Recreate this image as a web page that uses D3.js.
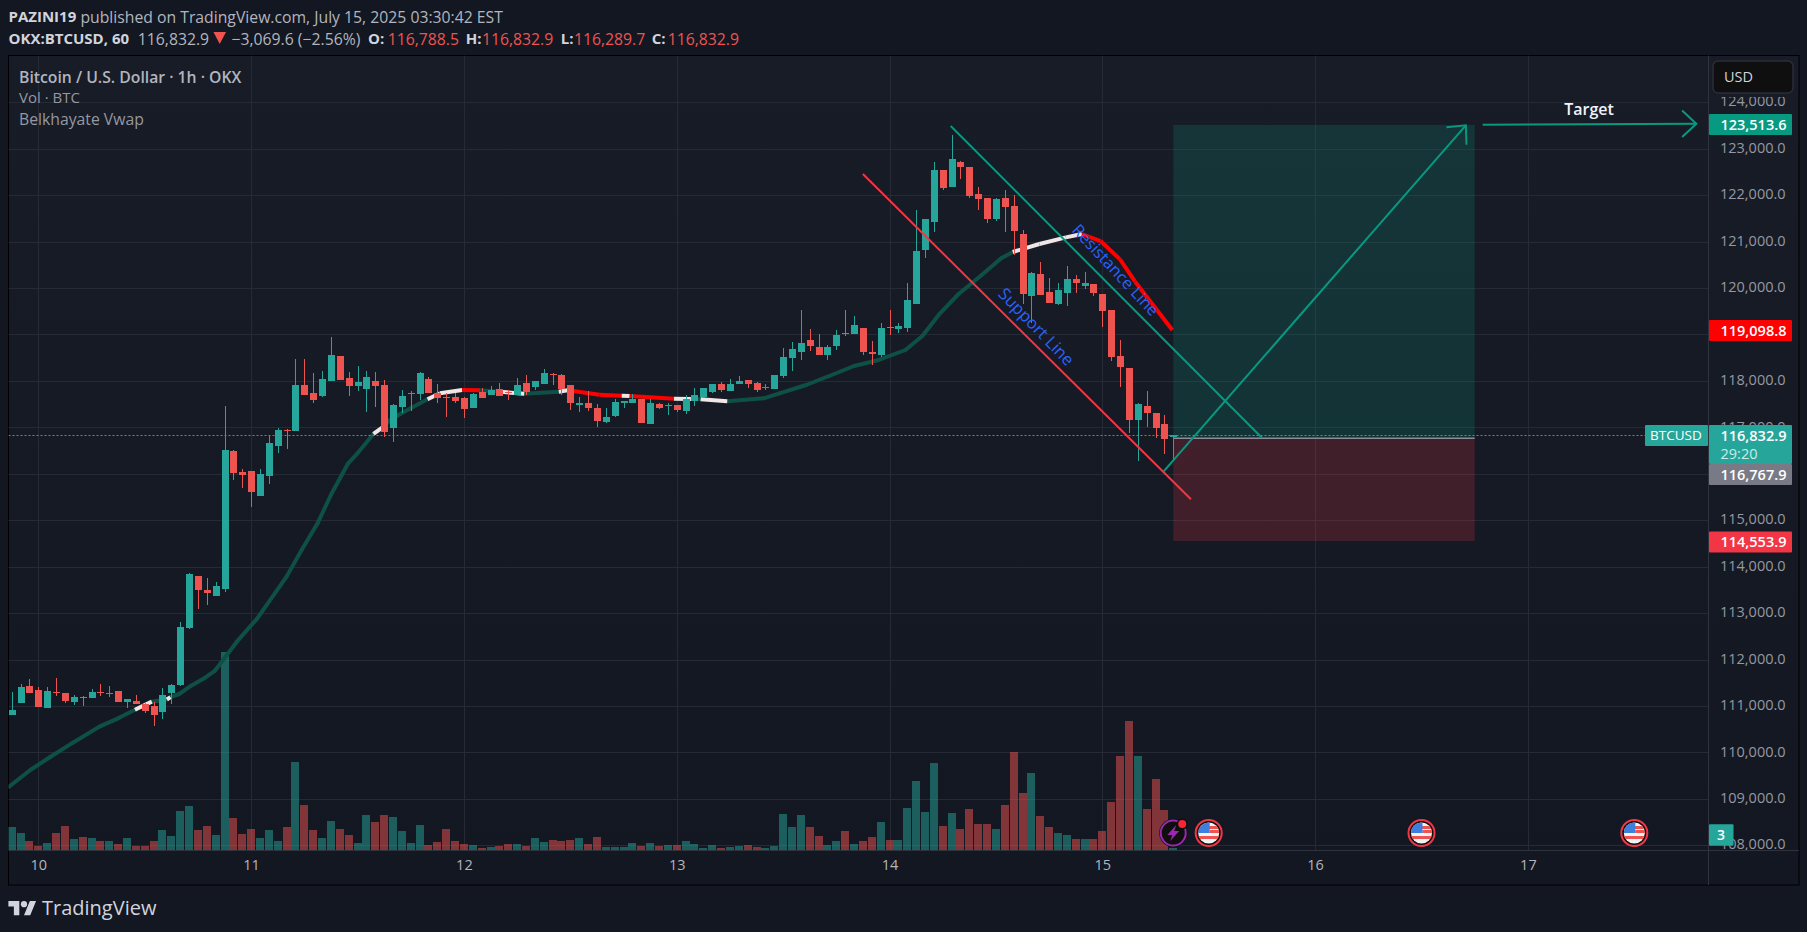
<!DOCTYPE html>
<html>
<head>
<meta charset="utf-8">
<script src="https://cdn.jsdelivr.net/npm/d3@7"></script>
<style>
html, body { margin: 0; padding: 0; background: #131722; overflow: hidden; }
text { font-family: "Open Sans", sans-serif; }
</style>
</head>
<body>
<svg id="mainSvg" width="1807" height="932"></svg>
<script>
// hours since the 10th, one bar per hour, first bar is hour -3
const firstBar = -3;
const opens = [110806,111065,111431,111345,110957,111302,111280,111086,111201,111172,111302,111266,111323,111086,111108,111043,111000,110871,111280,111452,112680,
  113800,113498,113369,113520,116492,116040,116061,115523,115953,116599,116950,116922,117913,117741,117676,117999,118537,118064,117891,117827,117999,117913,116987,117439,117726,117719,118042,117741,117655,117655,117633,117418,
  117762,117698,117827,117762,117698,117956,117870,117934,118157,118128,117913,117482,117525,117418,
  117116,117245,117532,117525,117611,117072,117503,117453,117482,117352,117568,117654,117761,117934,117783,117934,118020,117955,117848,117826,118106,118494,118623,118881,118731,118558,118752,119025,119011,119140,118623,118558,119161,119118,119140,119656,120819,121422,122542,122176,122714,122607,122025,121939,121487,121939,121767,121164,119829,120303,119915,119657,119893,120195,120044,120087,119872,119527,118537,118278,117159,117460,117309,117073,116788.5];
const closes = [110914,111409,111280,110979,111323,111280,111108,111194,111180,111302,111280,111280,111086,111151,111043,110892,110806,111237,111452,112701,113843,
  113498,113434,113585,116513,116018,115975,115609,115996,116664,116944,116930,117913,117698,117590,118042,118559,118021,117891,117978,118085,117891,116901,117482,117676,117741,118171,117741,117633,117633,117568,117396,117719,
  117633,117805,117676,117741,117913,117762,117999,118171,118135,117827,117525,117525,117418,117138,
  117223,117546,117568,117611,117094,117525,117417,117482,117374,117611,117697,117848,117934,117805,117934,117998,117934,117805,117876,118128,118515,118687,118817,118752,118558,118731,118989,119003,119204,118623,118580,119140,119140,119183,119743,120798,121487,122542,122155,122779,122607,121982,121918,121487,121918,121745,121229,119872,120324,119850,119678,119958,120195,120109,120109,119893,119506,118515,118300,117159,117503,117309,116986,116749,116832.9];
const highs = [111301,111474,111581,111409,111409,111603,111280,111237,111215,111366,111474,111431,111323,111151,111237,111060,111086,111388,111474,112809,113865,
  113800,113757,113671,117461,116513,116104,116061,116104,116815,116987,116965,118473,118473,118171,118214,118947,118537,118193,118322,118214,118193,118021,117504,117805,117784,118193,118085,117934,117733,117741,117647,117741,
  117848,117892,117956,117805,118064,118128,117999,118257,118171,118150,117913,117655,117784,117504,
  117417,117611,117568,117711,117611,117611,117525,117525,117482,117697,117848,117848,117934,117977,118042,118106,118020,117977,117934,118128,118709,118838,119527,119118,119011,118780,119097,119527,119398,119140,118860,119247,119527,119247,120109,121681,121487,122714,122542,123296,122736,122607,122176,121939,121939,122111,122004,121250,120346,120561,120216,120109,120475,120281,120346,120087,119872,119527,118881,118278,117525,117783,117309,117266,116832.9];
const lows = [110806,111065,111280,110979,110957,111215,111065,111022,111000,111172,111215,111194,111086,110957,111043,110849,110569,110720,111043,111431,112665,
  113089,113175,113369,113456,115867,115695,115286,115523,115781,116449,116535,116922,117698,117525,117655,117999,118021,117676,117784,117332,117439,116793,116686,117310,117353,117590,117741,117525,117224,117525,117202,117418,
  117633,117698,117676,117590,117698,117698,117805,117934,117913,117698,117375,117332,117353,117008,
  117094,117223,117417,117525,117094,117072,117396,117266,117331,117288,117460,117654,117740,117761,117783,117934,117848,117761,117805,117826,118063,118214,118451,118644,118558,118451,118666,118968,119011,118558,118343,118515,118989,119032,119054,119656,120647,121207,122111,122176,122348,121939,121681,121401,121444,121207,120712,119656,119240,119850,119678,119635,119614,119893,119980,119829,119161,118429,117869,116879,116276,117008,116771,116427,116289.7];
const volumes = [34.5,25.5,13.5,6,10.5,25.5,36,16.5,19.5,18,13.5,13.5,9,18,6,6,13.5,30,21,58.5,66,
  30,36,22.5,297,48,24,31.5,18,30,13.5,34.5,132,67.5,30,18,43.5,31.5,22.5,10.5,52.5,42,52.5,49.5,28.5,10.5,37.5,7.5,12,31.5,13.5,9,7.5,
  3,4.5,6,9,9,6,18,12,15,13.5,15,18,9,19.5,
  4.5,4.5,4.5,10.5,6,10.5,6,7.5,7.5,13.5,9,3,7.5,3,4.5,6,7.5,4.5,3,6,54,34.5,52.5,34.5,21,7.5,13.5,28.5,9,13.5,19.5,42,15,15,63,103.5,57,130.5,36,55.5,31.5,61.5,39,39,31.5,67.5,147,85.5,115.5,51,34.5,25.5,22.5,16.5,16.5,16.5,28.5,72,141,193.5,141,61.5,106.5,60,3];

// Belkhayate vwap, g/w/r is the colour of the stretch that starts at each point
const vwapBars = [-3.3,-0.9,1.3,3.9,6.9,9,10.9,12.8,14.5,14.9,15.9,17.2,18.7,19.9,20.9,22.4,24.7,28,29.7,31.5,33,34.9,36,37.8,38.9,39.7,40.8,42,43.9,45.3,47.8,49.8,51.7,54.8,58.7,59.7,63.3,65.8,66.7,71.7,73.6,74.7,77.7,81.8,83.6,86.6,89.2,92,94.8,97.8,99.7,101.7,103.8,106.4,108.6,109.9,112.9,115.9,117.7,119.8,122,123.7,127.9];
const vwapPrices = [109263,109622,109895,110210,110555,110734,110920,111093,111140,111190,111258,111431,111596,111754,112005,112385,112888,113786,114360,114934,115544,116212,116441,116858,117010,117159,117288,117410,117604,117734,117805,117798,117770,117726,117769,117798,117704,117680,117675,117618,117611,117604,117561,117625,117733,117912,118106,118321,118451,118666,118968,119456,119872,120281,120640,120776,120949,121092,121164,121013,120618,120137,119097];
const vwapColors = ['g','g','g','g','g','g','w','g','w','g','g','g','g','g','g','g','g','g','g','g','g','g','g','w','g','g','g','g','w','w','r','g','w','g','w','r','r','w','r','w','g','w','g','g','g','g','g','g','g','g','g','g','g','g','g','w','w','w','r','r','r','r','r'];

const priceTicks = [108000,109000,110000,111000,112000,113000,114000,115000,116000,117000,118000,119000,120000,121000,122000,123000,124000];
const hiddenPriceLabels = [116000,119000];
const dayTicks = [0,24,48,72,96,120,144,168];
const dayLabels = ['10','11','12','13','14','15','16','17'];

const supportBars = [93,130], supportPrices = [122456,115451];
const resistanceBars = [102.9,138], resistancePrices = [123490,116778];
const upArrowBars = [126.9,161], upArrowPrices = [116046,123505];
const targetBars = [162.9,187], targetPrices = [123518,123539];
const positionBars = [128,162];
const takeProfit = 123513.6, entry = 116767.9, stopLoss = 114553.9, lastPrice = 116832.9, vwapLast = 119098.8;
const eventBars = [132,156,180];
const lightningBar = 128;
const lastVolume = 3;

const style = {
  frame: { l: 8.5, t: 55.5, r: 1799, b: 885 },
  plot: { r: 1709, b: 850 },
  up: '#26a69a', down: '#ef5350',
  grid: '#262a35',
  axisFont: 14.5
};

const x = d3.scaleLinear().domain([0, 168]).range([38.3, 1527.9]);
const y = d3.scaleLinear().domain([108000, 124000]).range([845.3, 102.3]);
const yVol = d3.scaleLinear().domain([0, 297]).range([style.plot.b, 652]);

const svg = d3.select('#mainSvg');
const defs = svg.append('defs');

const bg = defs.append('linearGradient').attr('id', 'chartBg').attr('x1', 0).attr('y1', 0).attr('x2', 0).attr('y2', 1);
bg.append('stop').attr('offset', '0%').attr('stop-color', '#181c27');
bg.append('stop').attr('offset', '100%').attr('stop-color', '#131722');

defs.append('clipPath').attr('id', 'plotClip').append('rect')
  .attr('x', style.frame.l).attr('y', style.frame.t)
  .attr('width', style.plot.r - style.frame.l).attr('height', style.plot.b - style.frame.t);
// price labels are cut just under the USD button and at the time axis
defs.append('clipPath').attr('id', 'priceClip').append('rect')
  .attr('x', style.plot.r).attr('y', 97)
  .attr('width', style.frame.r - style.plot.r).attr('height', style.plot.b - 97);

svg.append('rect').attr('width', 1807).attr('height', 932).attr('fill', '#131722');
svg.append('rect')
  .attr('x', style.frame.l).attr('y', style.frame.t)
  .attr('width', style.frame.r - style.frame.l).attr('height', style.frame.b - style.frame.t)
  .attr('fill', 'url(#chartBg)').attr('stroke', '#000').attr('stroke-width', 1);

// header lines
function label(parent, px, py, txt, size, fill, weight) {
  return parent.append('text').attr('x', px).attr('y', py).attr('dy', '0.35em')
    .attr('font-size', size).attr('fill', fill).attr('font-weight', weight || 400).text(txt);
}
label(svg, 8.5, 17, 'PAZINI19', 15, '#d1d4dc', 700);
label(svg, 80.4, 17, 'published on TradingView.com, July 15, 2025 03:30:42 EST', 15.75, '#b2b5be');
label(svg, 8.5, 39, 'OKX:BTCUSD, 60', 15, '#d1d4dc', 700);
label(svg, 137.8, 39, '116,832.9', 15.75, '#b2b5be');
svg.append('path').attr('d', 'M213.5 32L226 32L219.7 44Z').attr('fill', '#ef5350');
label(svg, 231.5, 39, '\u22123,069.6 (\u22122.56%)', 15.75, '#b2b5be');
const ohlcHead = [['O:', 368, 387.7, '116,788.5'], ['H:', 465.7, 482, '116,832.9'], ['L:', 560.7, 574, '116,289.7'], ['C:', 651.7, 667.7, '116,832.9']];
ohlcHead.forEach(d => {
  label(svg, d[1], 39, d[0], 15, '#d1d4dc', 700);
  label(svg, d[2], 39, d[3], 15.75, '#ef5350');
});

// grid
const plot = svg.append('g').attr('clip-path', 'url(#plotClip)');
plot.append('g').selectAll('line').data(priceTicks).join('line')
  .attr('x1', style.frame.l).attr('x2', style.plot.r)
  .attr('y1', d => Math.round(y(d)) + 0.5).attr('y2', d => Math.round(y(d)) + 0.5)
  .attr('stroke', style.grid);
plot.append('g').selectAll('line').data(dayTicks).join('line')
  .attr('y1', style.frame.t).attr('y2', style.plot.b)
  .attr('x1', d => Math.round(x(d)) + 0.5).attr('x2', d => Math.round(x(d)) + 0.5)
  .attr('stroke', style.grid);

// position box
plot.append('rect').attr('x', x(positionBars[0])).attr('y', y(takeProfit))
  .attr('width', x(positionBars[1]) - x(positionBars[0])).attr('height', y(entry) - y(takeProfit))
  .attr('fill', 'rgba(8,153,129,0.2)');
plot.append('rect').attr('x', x(positionBars[0])).attr('y', y(entry))
  .attr('width', x(positionBars[1]) - x(positionBars[0])).attr('height', y(stopLoss) - y(entry))
  .attr('fill', 'rgba(242,54,69,0.2)');
plot.append('line').attr('x1', x(positionBars[0])).attr('x2', x(positionBars[1]))
  .attr('y1', y(entry)).attr('y2', y(entry)).attr('stroke', '#8a8d96').attr('stroke-width', 1.5);

// volume
const barIdx = opens.map((d, i) => i + firstBar);
plot.append('g').attr('shape-rendering', 'crispEdges').selectAll('rect').data(barIdx).join('rect')
  .attr('x', d => Math.round(x(d)) - 4).attr('width', 8)
  .attr('y', (d, i) => yVol(volumes[i])).attr('height', (d, i) => style.plot.b - yVol(volumes[i]))
  .attr('fill', (d, i) => closes[i] >= opens[i] ? 'rgba(38,166,154,0.5)' : 'rgba(239,83,80,0.5)');

// vwap, one path per stretch
const vwapFill = { g: '#0e5046', w: '#f0e6e6', r: '#ff0000' };
const vwapLine = d3.line().x(d => x(d[0])).y(d => y(d[1]));
const vwapSegs = vwapBars.slice(0, -1).map((b, i) => ({ c: vwapColors[i], pts: [[b, vwapPrices[i]], [vwapBars[i + 1], vwapPrices[i + 1]]] }));
plot.append('g').attr('fill', 'none').attr('stroke-width', 4).attr('stroke-linecap', 'round')
  .selectAll('path').data(vwapSegs.filter(d => d.c == 'g')).join('path')
  .attr('d', d => vwapLine(d.pts)).attr('stroke', d => vwapFill[d.c]);
plot.append('g').attr('fill', 'none').attr('stroke-width', 4).attr('stroke-linecap', 'butt')
  .selectAll('path').data(vwapSegs.filter(d => d.c != 'g')).join('path')
  .attr('d', d => vwapLine(d.pts)).attr('stroke', d => vwapFill[d.c]);

// candles
const candles = plot.append('g').attr('shape-rendering', 'crispEdges');
const candleColor = (i) => closes[i] >= opens[i] ? style.up : style.down;
candles.selectAll('.wick').data(barIdx).join('rect').attr('class', 'wick')
  .attr('x', d => Math.round(x(d))).attr('width', 1)
  .attr('y', (d, i) => y(highs[i])).attr('height', (d, i) => y(lows[i]) - y(highs[i]))
  .attr('fill', (d, i) => candleColor(i));
candles.selectAll('.body').data(barIdx).join('rect').attr('class', 'body')
  .attr('x', d => Math.round(x(d)) - 3).attr('width', 7)
  .attr('y', (d, i) => y(Math.max(opens[i], closes[i])))
  .attr('height', (d, i) => Math.max(1, Math.abs(y(opens[i]) - y(closes[i]))))
  .attr('fill', (d, i) => candleColor(i));

// last price dotted line
plot.append('line').attr('x1', style.frame.l).attr('x2', style.plot.r)
  .attr('y1', Math.round(y(lastPrice)) + 0.5).attr('y2', Math.round(y(lastPrice)) + 0.5)
  .attr('stroke', style.up).attr('stroke-dasharray', '2 2');

// drawings
function trend(bars, prices, color) {
  return plot.append('line')
    .attr('x1', x(bars[0])).attr('y1', y(prices[0]))
    .attr('x2', x(bars[1])).attr('y2', y(prices[1]))
    .attr('stroke', color).attr('stroke-width', 2);
}
function arrowHead(bars, prices, color) {
  const ang = Math.atan2(y(prices[1]) - y(prices[0]), x(bars[1]) - x(bars[0]));
  const len = 19.5, spread = 43 * Math.PI / 180;
  const tipX = x(bars[1]), tipY = y(prices[1]);
  const ends = [ang - spread, ang + spread].map(a => [tipX - len * Math.cos(a), tipY - len * Math.sin(a)]);
  plot.append('path').attr('fill', 'none').attr('stroke', color).attr('stroke-width', 2)
    .attr('d', d3.line()([ends[0], [tipX, tipY], ends[1]]));
}
trend(supportBars, supportPrices, '#f23645');
trend(resistanceBars, resistancePrices, '#089981');
trend(upArrowBars, upArrowPrices, '#089981');
arrowHead(upArrowBars, upArrowPrices, '#089981');
trend(targetBars, targetPrices, '#089981');
arrowHead(targetBars, targetPrices, '#089981');

plot.append('text').attr('transform', 'translate(1036.3,326.7) rotate(46)')
  .attr('text-anchor', 'middle').attr('dy', '0.35em').attr('font-size', 16.8).attr('fill', '#2962ff').text('Support Line');
plot.append('text').attr('transform', 'translate(1115.6,270) rotate(47)')
  .attr('text-anchor', 'middle').attr('dy', '0.35em').attr('font-size', 16.5).attr('fill', '#2962ff').text('Resistance Line');
plot.append('text').attr('x', 1589).attr('y', 109).attr('text-anchor', 'middle').attr('dy', '0.35em')
  .attr('font-size', 16).attr('font-weight', 600).attr('fill', '#f0f3fa').text('Target');

// legend
label(svg, 19, 77, 'Bitcoin / U.S. Dollar \u00b7 1h \u00b7 OKX', 15.75, '#b2b5be', 600);
label(svg, 19, 98, 'Vol \u00b7 BTC', 15, '#9598a1');
label(svg, 19, 119, 'Belkhayate Vwap', 15.75, '#9598a1');

// axis frame lines
svg.append('line').attr('x1', style.frame.l).attr('x2', style.frame.r).attr('y1', style.plot.b + 0.5).attr('y2', style.plot.b + 0.5).attr('stroke', '#2f333e');
svg.append('line').attr('x1', style.plot.r - 0.5).attr('x2', style.plot.r - 0.5).attr('y1', style.frame.t).attr('y2', style.frame.b).attr('stroke', '#2f333e');

// axes
const priceAxis = d3.axisRight(y).tickValues(priceTicks.filter(d => !hiddenPriceLabels.includes(d)))
  .tickFormat(d3.format(',.1f')).tickSize(0).tickPadding(11);
svg.append('g').attr('clip-path', 'url(#priceClip)').append('g')
  .attr('transform', `translate(${style.plot.r},-1)`).call(priceAxis)
  .call(g => g.select('.domain').remove())
  .selectAll('text').attr('font-size', style.axisFont).attr('font-family', '"Open Sans", sans-serif').attr('fill', '#9598a1');

const timeAxis = d3.axisBottom(x).tickValues(dayTicks).tickFormat((d, i) => dayLabels[i]).tickSize(0).tickPadding(10);
svg.append('g').attr('transform', `translate(0,${style.plot.b})`).call(timeAxis)
  .call(g => g.select('.domain').remove())
  .selectAll('text').attr('font-size', style.axisFont).attr('font-family', '"Open Sans", sans-serif').attr('fill', '#b2b5be');

// price tags, the entry tag is pushed under the last price tag
function priceTag(price, color, top, h) {
  svg.append('rect').attr('x', style.plot.r).attr('y', top).attr('width', 83).attr('height', h || 21)
    .attr('fill', color).attr('rx', 1);
  label(svg, 1720.5, top + 10.5, d3.format(',.1f')(price), style.axisFont, '#fff', 600);
}
priceTag(takeProfit, '#089981', 114);
priceTag(vwapLast, '#ff0000', 320);
priceTag(lastPrice, style.up, 425, 39);
priceTag(entry, '#787b86', 464);
priceTag(stopLoss, '#f23645', 531.5);
label(svg, 1720.5, 453.5, '29:20', style.axisFont, '#c9ece8');
svg.append('rect').attr('x', 1645).attr('y', 425).attr('width', 63).attr('height', 21).attr('rx', 1).attr('fill', style.up);
label(svg, 1650, 435.5, 'BTCUSD', 13.5, '#fff', 500);

// volume tag
svg.append('rect').attr('x', style.plot.r).attr('y', yVol(lastVolume) - 23.7).attr('width', 24.5).attr('height', 21.5).attr('rx', 1).attr('fill', style.up);
label(svg, 1717, yVol(lastVolume) - 13, String(lastVolume), 14, '#fff', 600);

// usd button
svg.append('rect').attr('x', 1713).attr('y', 61).attr('width', 80).attr('height', 32).attr('rx', 5)
  .attr('fill', '#0f0f0f').attr('stroke', '#2a2e39').attr('stroke-width', 1.5);
label(svg, 1724, 77, 'USD', style.axisFont, '#d1d4dc');

// event icons along the bottom
const evY = 833;
const lightning = svg.append('g').attr('transform', `translate(${x(lightningBar)},${evY})`);
lightning.append('circle').attr('r', 14).attr('fill', '#0f0f0f');
lightning.append('circle').attr('r', 12.5).attr('fill', 'none').attr('stroke', '#9c27b0').attr('stroke-width', 2);
lightning.append('path').attr('d', 'M3,-8L-6,2L-1,2L-3,8L6,-2L1,-2Z').attr('fill', '#9c27b0');
lightning.append('circle').attr('cx', 9).attr('cy', -9).attr('r', 5.5).attr('fill', '#0f0f0f');
lightning.append('circle').attr('cx', 9).attr('cy', -9).attr('r', 4).attr('fill', '#f7253a');

defs.append('clipPath').attr('id', 'flagClip').append('circle').attr('r', 10.5);
const flags = svg.append('g').selectAll('g').data(eventBars).join('g')
  .attr('transform', d => `translate(${x(d)},${evY})`);
flags.append('circle').attr('r', 13).attr('fill', '#0f0f0f').attr('stroke', '#f23645').attr('stroke-width', 2);
const flagInner = flags.append('g').attr('clip-path', 'url(#flagClip)');
flagInner.append('rect').attr('x', -11).attr('y', -11).attr('width', 22).attr('height', 22).attr('fill', '#f2f2f2');
flagInner.append('rect').attr('x', 1).attr('y', -3).attr('width', 10).attr('height', 3).attr('fill', '#ef5350');
flagInner.append('rect').attr('x', -11).attr('y', 3).attr('width', 22).attr('height', 3).attr('fill', '#ef5350');
flagInner.append('rect').attr('x', -11).attr('y', -7).attr('width', 22).attr('height', 3).attr('fill', '#ef5350');
flagInner.append('rect').attr('x', -11).attr('y', -11).attr('width', 12).attr('height', 11).attr('fill', '#3d7fe0');

// logo
const logo = svg.append('g').attr('transform', 'translate(8.4,898) scale(0.78)').attr('fill', '#d1d4dc');
logo.append('path').attr('d', 'M14 22H7V11H0V4h14v18zM28 22h-8l7.5-18h8L28 22z');
logo.append('circle').attr('cx', 20).attr('cy', 8).attr('r', 4);
label(svg, 42, 908, 'TradingView', 20, '#d1d4dc', 500).attr('font-family', 'Roboto, sans-serif');
</script>
</body>
</html>
